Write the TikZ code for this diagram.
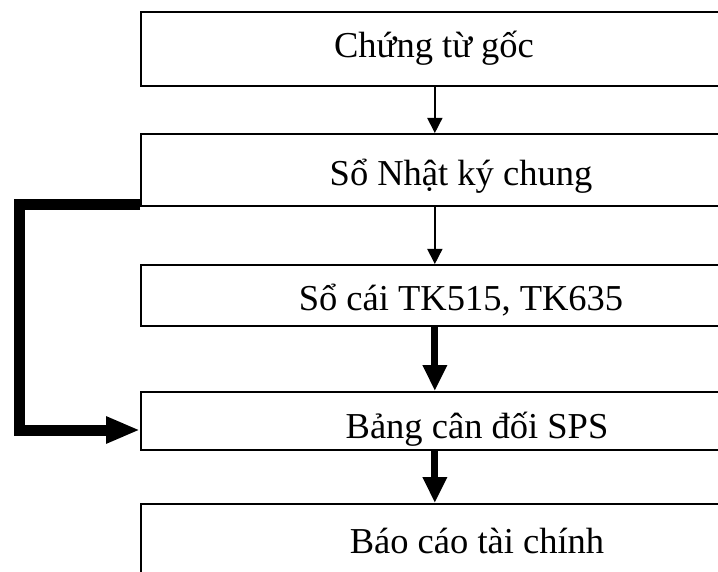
\documentclass[tikz,border=0pt]{standalone}
\usepackage{fontspec}
\setmainfont{Liberation Serif}
\usetikzlibrary{arrows.meta,calc}
\begin{document}
\begin{tikzpicture}[x=1pt,y=-1pt,
  stagebox/.style={draw, line width=1.7pt, minimum width=588pt, inner sep=0pt, anchor=north west},
  stagetext/.style={anchor=base, font=\fontsize{36.5}{44}\selectfont, inner sep=0pt},
  thinflow/.style={line width=1.5pt, -{Triangle[length=15pt,width=15pt]}},
  boldflow/.style={line width=7pt, -{Triangle[length=26pt,width=23pt]}},
  sideflow/.style={line width=11pt, line join=miter, -{Triangle[length=34pt,width=25pt]}}]
  \useasboundingbox (0,0) rectangle (718,572);
  \clip (0,0) rectangle (718,572);
  \fill[white] (0,0) rectangle (718,572);

  % stages of the bookkeeping flow
  \node[stagebox, minimum height=74pt]  (b1) at (140,11)  {};
  \node[stagebox, minimum height=72pt]  (b2) at (140,133) {};
  \node[stagebox, minimum height=61pt]  (b3) at (140,264) {};
  \node[stagebox, minimum height=58pt]  (b4) at (140,391) {};
  \node[stagebox, minimum height=117pt] (b5) at (140,503) {};

  \node[stagetext] (t1) at (434,58)  {Chứng từ gốc};
  \node[stagetext] (t2) at (461,186) {Sổ Nhật ký chung};
  \node[stagetext] (t3) at (461,311) {Sổ cái TK515, TK635};
  \node[stagetext] (t4) at (477,438) {Bảng cân đối SPS};
  \node[stagetext] (t5) at (477,553) {Báo cáo tài chính};

  % connectors
  \draw[thinflow] (b1.south) -- (b2.north);
  \draw[thinflow] (b2.south) -- (b3.north);
  \draw[boldflow] (b3.south) -- (b4.north);
  \draw[boldflow] (b4.south) -- (b5.north);

  \coordinate (sidebend) at (19.5,430);
  \draw[sideflow] ($(b2.south west)+(0,-2.5)$) -| (sidebend) -- (b4.west |- sidebend);
\end{tikzpicture}
\end{document}
